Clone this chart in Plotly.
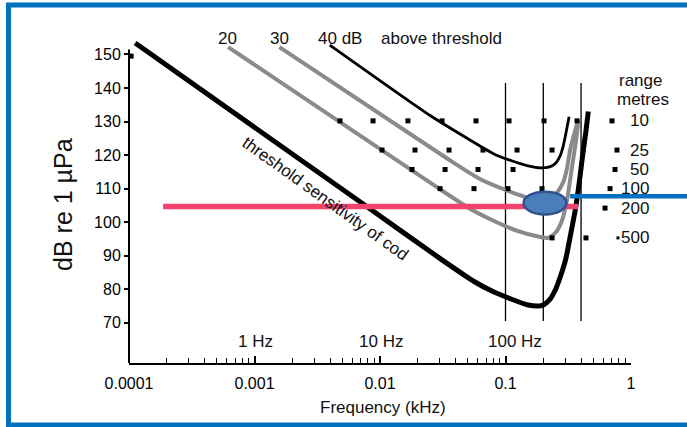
import numpy as np
import plotly.graph_objects as go

# ---------------- data (frequency in kHz, level in dB re 1 uPa) ----------------
thr_f = [0.000112, 0.00794, 0.0316, 0.0562, 0.0794, 0.112, 0.151, 0.186, 0.200, 0.224,
         0.251, 0.275, 0.302, 0.331, 0.363, 0.389, 0.412, 0.437, 0.457]
thr_db = [153.4, 104.5, 88.6, 82.3, 79.3, 77.0, 75.3, 75.0, 75.3, 76.8,
          80.0, 84.0, 89.0, 96.5, 104.5, 112.5, 120.0, 127.0, 133.0]

a20_f = [0.000617, 0.0282, 0.0521, 0.0794, 0.126, 0.178, 0.219, 0.251,
         0.282, 0.309, 0.339, 0.372, 0.380]
a20_db = [152.2, 110.5, 104.0, 100.5, 97.3, 95.8, 95.3, 96.9,
          100.5, 106.6, 116.5, 126.6, 130.5]

a30_f = [0.00158, 0.0355, 0.0631, 0.1, 0.141, 0.182, 0.219, 0.251,
         0.287, 0.309, 0.327, 0.351, 0.376]
a30_db = [152.2, 118.6, 112.8, 109.6, 107.6, 106.6, 106.6, 108.3,
          111.7, 116.0, 121.5, 126.0, 130.0]

a40_f = [0.00398, 0.0251, 0.0521, 0.0794, 0.112, 0.151, 0.191, 0.224, 0.251, 0.272,
         0.288, 0.302, 0.321]
a40_db = [152.8, 131.8, 124.5, 120.5, 118.3, 116.8, 116.2, 116.5, 117.6, 119.7,
          122.6, 126.2, 131.4]

# range grid (squares)
row10_f = [0.0048, 0.0088, 0.0167, 0.0312, 0.0582, 0.1067, 0.2028, 0.3715]
row25_f = [0.01038, 0.0190, 0.0355, 0.0662, 0.1236, 0.235]
row50_f = [0.0180, 0.0330, 0.0604, 0.1148]
row100_f = [0.0301, 0.0561, 0.1047, 0.1954]
row500_f = [0.235, 0.4378]
row_db = {"10": 130.2, "25": 121.5, "50": 115.7, "100": 110.0, "500": 95.3}
extra_dot_f = [0.000104]
extra_dot_db = [149.5]

range_labels = ["10", "25", "50", "100", "200", "500"]
range_key_f = [0.706, 0.773, 0.746, 0.681, 0.621]
range_key_db = [130.2, 121.5, 115.7, 110.0, 104.2]
range_key_small_f = [0.787]
range_key_small_db = [95.3]
range_label_db = [130.2, 121.5, 115.7, 110.0, 104.2, 95.3]

vline_f = [0.1, 0.2, 0.4]
vline_top = 141.5
vline_bottom = 70.5

red_f = [0.000187, 0.378]
red_db = 104.7

ellipse_f = [0.1393, 0.306]
ellipse_db = [102.3, 109.1]

blue_start_f = 0.327
blue_db = 107.7

x_tickvals = [0.0001, 0.001, 0.01, 0.1, 1]
x_ticktext = ["0.0001", "0.001", "0.01", "0.1", "1"]
y_tickvals = [70, 80, 90, 100, 110, 120, 130, 140, 150]

hz_labels = ["1 Hz", "10 Hz", "100 Hz"]
hz_label_f = [0.00101, 0.0102, 0.119]
hz_label_db = 64.3

top_labels = ["20", "30", "40 dB", "above threshold"]
top_label_f = [0.000604, 0.00157, 0.00484, 0.0309]
top_label_db = 154.9

XMIN, XMAX = -4, 0
YMIN, YMAX = 58, 157

FONT = "Liberation Sans, Arial, Helvetica, sans-serif"
GRAY = "#8a8a8a"

fig = go.Figure()

def line(xs, ys, color, width):
    fig.add_trace(go.Scatter(x=xs, y=ys, mode="lines",
                             line=dict(color=color, width=width, shape="spline", smoothing=0.6),
                             hoverinfo="skip"))

# vertical reference lines
vx, vy = [], []
for f in vline_f:
    vx += [f, f, None]
    vy += [vline_bottom, vline_top, None]
fig.add_trace(go.Scatter(x=vx, y=vy, mode="lines", line=dict(color="black", width=1.3),
                         hoverinfo="skip"))

line(a20_f, a20_db, GRAY, 4)
line(a30_f, a30_db, GRAY, 4)
line(a40_f, a40_db, "black", 2.8)
line(thr_f, thr_db, "black", 5)

# range squares
dots_x, dots_y = [], []
for key, fs in [("10", row10_f), ("25", row25_f), ("50", row50_f), ("100", row100_f), ("500", row500_f)]:
    dots_x += fs
    dots_y += [row_db[key]] * len(fs)
dots_x += extra_dot_f + range_key_f
dots_y += extra_dot_db + range_key_db
fig.add_trace(go.Scatter(x=dots_x, y=dots_y, mode="markers",
                         marker=dict(symbol="square", size=5, color="black"),
                         hoverinfo="skip", cliponaxis=False))
fig.add_trace(go.Scatter(x=range_key_small_f, y=range_key_small_db, mode="markers",
                         marker=dict(symbol="square", size=3, color="black"),
                         hoverinfo="skip", cliponaxis=False))

# red level line
fig.add_trace(go.Scatter(x=red_f, y=[red_db, red_db], mode="lines",
                         line=dict(color="#F0446C", width=5.5), hoverinfo="skip"))

def to_paper_x(f):
    return (np.log10(f) - XMIN) / (XMAX - XMIN)

shapes = [
    dict(type="circle", xref="x", yref="y", x0=ellipse_f[0], x1=ellipse_f[1],
         y0=ellipse_db[0], y1=ellipse_db[1], fillcolor="#4A7EBB",
         line=dict(color="#2F528F", width=2.5), layer="above"),
    dict(type="line", xref="paper", yref="y", x0=to_paper_x(blue_start_f), x1=1.2,
         y0=blue_db, y1=blue_db, line=dict(color="#0070C0", width=4.5)),
    dict(type="line", xref="paper", yref="y", x0=0, x1=0, y0=YMIN, y1=151.5,
         line=dict(color="black", width=2)),
    dict(type="rect", xref="paper", yref="paper", x0=-0.240, x1=1.2, y0=-0.187, y1=1.078,
         line=dict(color="#0070C0", width=5), fillcolor="rgba(0,0,0,0)"),
]

ann = []
def text(x, y, s, size=17, **kw):
    d = dict(x=x, y=y, text=s, showarrow=False, xanchor="center", yanchor="middle",
             font=dict(family=FONT, size=size, color="#111"))
    d.update(kw)
    ann.append(d)

for s, f in zip(top_labels, top_label_f):
    text(np.log10(f), top_label_db, s, xref="x", yref="y")
for s, f in zip(hz_labels, hz_label_f):
    text(np.log10(f), hz_label_db, s, xref="x", yref="y")
for s, db in zip(range_labels, range_label_db):
    text(1.04, db, s, xref="paper", yref="y", xanchor="right")
text(1.018, 142.1, "range", xref="paper", yref="y")
text(1.024, 136.7, "metres", xref="paper", yref="y")
text(np.log10(0.00365), 107.2, "threshold sensitivity of cod", xref="x", yref="y", textangle=35.5)
text(0.505, -0.1355, "Frequency (kHz)", xref="paper", yref="paper", size=17)
text(-0.1315, 0.479, "dB re 1 µPa", xref="paper", yref="paper", size=25, textangle=-90)

minor_vals = [m * 10.0 ** e for e in range(-4, 0) for m in range(2, 10)]

fig.update_layout(
    width=687, height=427,
    margin=dict(l=129, r=56, t=31, b=64),
    plot_bgcolor="white", paper_bgcolor="white",
    showlegend=False,
    shapes=shapes, annotations=ann,
    xaxis=dict(type="log", range=[XMIN, XMAX], tickvals=x_tickvals, ticktext=x_ticktext,
               ticks="inside", ticklen=7, tickwidth=1.5, tickcolor="black",
               showline=True, linecolor="black", linewidth=2, showgrid=False, zeroline=False,
               minor=dict(tickvals=minor_vals, ticks="inside", ticklen=5, tickwidth=1,
                          tickcolor="black", showgrid=False),
               tickfont=dict(family=FONT, size=16, color="black"), ticklabelstandoff=5),
    yaxis=dict(range=[YMIN, YMAX], tickvals=y_tickvals, ticks="outside", ticklen=4,
               tickwidth=2, tickcolor="black", showline=False, showgrid=False, zeroline=False,
               tickfont=dict(family=FONT, size=16, color="black"), ticklabelstandoff=0),
)

fig.write_html("out.html")
